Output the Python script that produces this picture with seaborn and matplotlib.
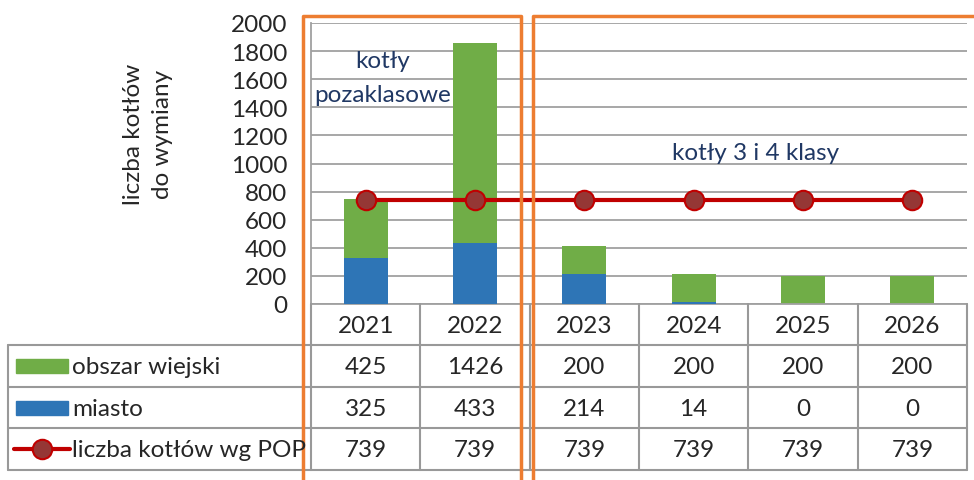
import numpy as np
import matplotlib
matplotlib.use("Agg")
import matplotlib.pyplot as plt
import matplotlib.transforms as mtransforms
from matplotlib.patches import Rectangle
from matplotlib.lines import Line2D
import seaborn as sns

# data
years = ["2021", "2022", "2023", "2024", "2025", "2026"]
wiejski = [425, 1426, 200, 200, 200, 200]
miasto = [325, 433, 214, 14, 0, 0]
pop = [739, 739, 739, 739, 739, 739]
row_labels = ["obszar wiejski", "miasto", "liczba kotłów wg POP"]

green = "#70AD47"
blue = "#2E75B6"
red = "#C00000"
orange = "#ED7D31"
navy = "#203864"
gray = "#A0A0A0"
fs = 17.5

sns.set_style("white")
plt.rcParams["font.family"] = ["Lato", "DejaVu Sans"]

W, H = 974, 481
fig = plt.figure(figsize=(W / 100, H / 100), dpi=100)
ax = fig.add_axes([311 / W, 1 - 305 / H, 656 / W, 281 / H])

total = [a + b for a, b in zip(wiejski, miasto)]
sns.barplot(x=years, y=total, color=green, saturation=1, width=0.4, linewidth=0,
            ax=ax, zorder=2)
sns.barplot(x=years, y=miasto, color=blue, saturation=1, width=0.4, linewidth=0,
            ax=ax, zorder=3)
sns.lineplot(x=np.arange(len(years)), y=pop, color=red, lw=3, marker="o",
             markersize=14, markerfacecolor="#953735", markeredgecolor=red,
             markeredgewidth=1.5, ax=ax, zorder=4)

ax.set_xlim(-0.5, len(years) - 0.5)
ax.set_ylim(0, 2000)
ax.set_yticks(range(0, 2001, 200))
ax.tick_params(axis="y", labelsize=fs, length=3, color=gray, pad=14)
ax.set_xticks([])
ax.set_xlabel("")
ax.yaxis.grid(True, color=gray, lw=1.3, zorder=0)
ax.set_axisbelow(True)
for s in ["top", "right"]:
    ax.spines[s].set_visible(False)
for s in ["left", "bottom"]:
    ax.spines[s].set_color(gray)
    ax.spines[s].set_linewidth(1.3)
ax.set_ylabel("liczba kotłów\ndo wymiany", fontsize=fs, labelpad=0, linespacing=1.45)
ax.yaxis.set_label_coords(-0.211, 0.607)

# overlay in pixel coordinates for table and frames
ov = fig.add_axes([0, 0, 1, 1], zorder=10)
ov.set_xlim(0, W)
ov.set_ylim(H, 0)
ov.axis("off")
ov.patch.set_alpha(0)

bt = mtransforms.blended_transform_factory(ax.transData, ov.transData)

# table grid
lc = "#999999"
row_y = [305, 346, 388, 429, 471]
x0, x1 = 8, 967
edges = [i - 0.5 for i in range(len(years) + 1)]
for e in edges:
    ov.plot([e, e], [row_y[0], row_y[-1]], color=lc, lw=1.5, transform=bt)
ov.plot([x0, x0], [row_y[1], row_y[-1]], color=lc, lw=1.5)
ov.plot([x0, x1], [row_y[-1], row_y[-1]], color=lc, lw=1.5)
for y in row_y[1:-1]:
    ov.plot([x0, x1], [y, y], color=lc, lw=1.5)

rows = [wiejski, miasto, pop]
for i, yr in enumerate(years):
    ov.text(i, (row_y[0] + row_y[1]) / 2 + 1, yr, ha="center", va="center",
            fontsize=fs, transform=bt)
    for r, vals in enumerate(rows):
        ov.text(i, (row_y[r + 1] + row_y[r + 2]) / 2 + 1, str(vals[i]),
                ha="center", va="center", fontsize=fs, transform=bt)

# legend keys inside table
for r, lab in enumerate(row_labels):
    yc = (row_y[r + 1] + row_y[r + 2]) / 2
    ov.text(72, yc + 1, lab, ha="left", va="center", fontsize=fs)
ov.add_patch(Rectangle((16, (row_y[1] + row_y[2]) / 2 - 7), 52, 14, color=green))
ov.add_patch(Rectangle((16, (row_y[2] + row_y[3]) / 2 - 7), 52, 14, color=blue))
yl = (row_y[3] + row_y[4]) / 2
ov.add_line(Line2D([14, 70], [yl, yl], color=red, lw=3, solid_capstyle="round"))
ov.add_line(Line2D([42], [yl], marker="o", markersize=14, markerfacecolor="#953735",
                   markeredgecolor=red, markeredgewidth=1.5))

# orange frames
ov.plot([303, 303, 521, 521], [H + 5, 17, 17, H + 5], color=orange, lw=2.5)
ov.plot([533, 533, W + 5], [H + 5, 17, 17], color=orange, lw=2.5)

# annotations
ov.text(383, 62, "kotły", ha="center", va="center", fontsize=fs, color=navy)
ov.text(383, 95, "pozaklasowe", ha="center", va="center", fontsize=fs, color=navy)
ov.text(756, 154, "kotły 3 i 4 klasy", ha="center", va="center", fontsize=fs, color=navy)

fig.savefig("out.png", dpi=100)
